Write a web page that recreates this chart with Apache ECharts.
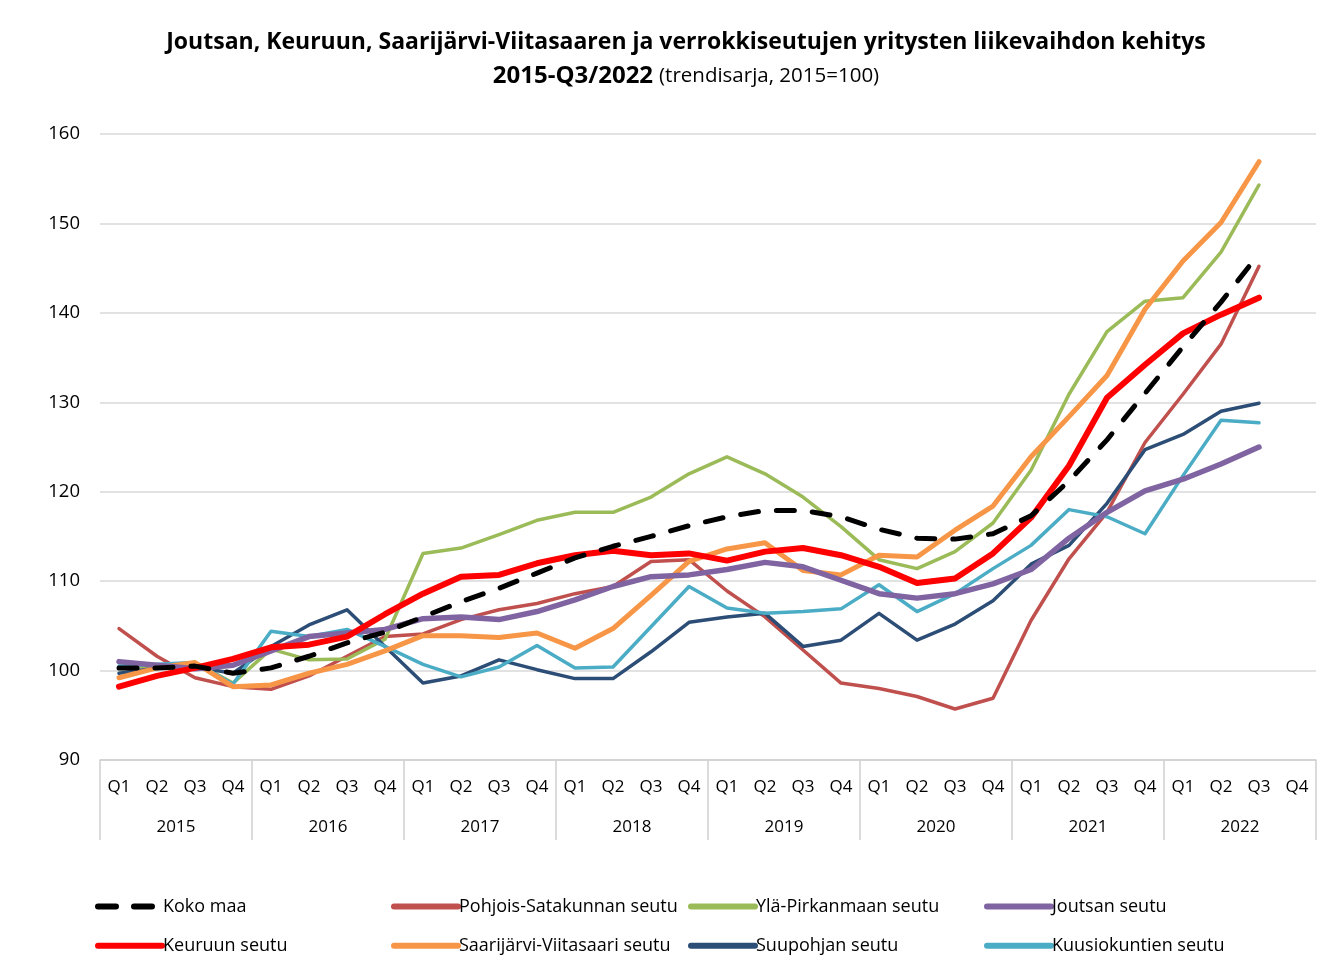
<!DOCTYPE html>
<html>
<head>
<meta charset="utf-8">
<script src="https://cdn.jsdelivr.net/npm/echarts@6/dist/echarts.min.js"></script>
<style>
  html, body { margin: 0; padding: 0; background: #fff; }
  #main { width: 1340px; height: 968px; }
</style>
</head>
<body>
<div id="main"></div>
<script>
// kvartaalit ja vuodet
const quarters = [];
const years = ['2015', '2016', '2017', '2018', '2019', '2020', '2021', '2022'];
years.forEach(function () { quarters.push('Q1', 'Q2', 'Q3', 'Q4'); });

// trendisarjat, 2015=100 (2022 Q4 puuttuu)
const kokoMaa = [100.3, 100.3, 100.5, 99.7, 100.3, 101.6, 103.1, 104.3, 106.0, 107.7, 109.2, 110.9, 112.6, 113.9, 115.0, 116.2, 117.2, 117.9, 117.9, 117.2, 115.8, 114.8, 114.7, 115.3, 117.3, 121.2, 125.8, 131.0, 136.2, 141.2, 146.6, null];
const pohjoisSatakunta = [104.7, 101.6, 99.2, 98.2, 97.9, 99.4, 101.6, 103.8, 104.1, 105.7, 106.8, 107.5, 108.6, 109.4, 112.2, 112.4, 108.9, 106.0, 102.3, 98.6, 98.0, 97.1, 95.7, 96.9, 105.6, 112.5, 117.7, 125.5, 130.9, 136.5, 145.2, null];
const ylaPirkanmaa = [100.2, 100.6, 100.9, 98.6, 102.4, 101.2, 101.3, 103.5, 113.1, 113.7, 115.2, 116.8, 117.7, 117.7, 119.4, 122.0, 123.9, 122.0, 119.4, 116.1, 112.4, 111.4, 113.3, 116.5, 122.4, 130.9, 137.9, 141.3, 141.7, 146.8, 154.3, null];
const joutsa = [101.0, 100.6, 100.2, 100.6, 102.2, 103.8, 104.2, 104.6, 105.8, 106.0, 105.7, 106.6, 107.9, 109.4, 110.5, 110.7, 111.3, 112.1, 111.6, 110.1, 108.6, 108.1, 108.6, 109.7, 111.3, 114.8, 117.7, 120.1, 121.4, 123.1, 125.0, null];
const keuruu = [98.2, 99.4, 100.3, 101.3, 102.6, 102.9, 103.8, 106.3, 108.6, 110.5, 110.7, 112.0, 112.9, 113.4, 112.9, 113.1, 112.3, 113.3, 113.7, 112.9, 111.6, 109.8, 110.3, 113.1, 117.1, 122.9, 130.5, 134.2, 137.7, 139.8, 141.7, null];
const saarijarviViitasaari = [99.2, 100.3, 100.9, 98.2, 98.4, 99.7, 100.7, 102.2, 103.9, 103.9, 103.7, 104.2, 102.5, 104.7, 108.4, 112.2, 113.6, 114.3, 111.2, 110.7, 112.9, 112.7, 115.7, 118.4, 123.9, 128.4, 133.0, 140.4, 145.8, 150.1, 156.9, null];
const suupohja = [99.7, 100.3, 100.4, 99.7, 102.7, 105.1, 106.8, 102.7, 98.6, 99.4, 101.2, 100.1, 99.1, 99.1, 102.1, 105.4, 106.0, 106.4, 102.7, 103.4, 106.4, 103.4, 105.2, 107.8, 111.9, 114.0, 118.7, 124.7, 126.4, 129.0, 129.9, null];
const kuusiokunta = [100.5, 100.7, 100.9, 98.5, 104.4, 103.8, 104.6, 102.7, 100.7, 99.3, 100.4, 102.8, 100.3, 100.4, 104.9, 109.4, 107.0, 106.4, 106.6, 106.9, 109.6, 106.6, 108.6, 111.4, 114.0, 118.0, 117.2, 115.3, 121.8, 128.0, 127.7, null];

const FONT = 'Open Sans';

var myChart = echarts.init(document.getElementById('main'));

function line(name, data, color, width, extra) {
  return Object.assign({
    name: name,
    type: 'line',
    data: data,
    symbol: 'none',
    animation: false,
    color: color,
    lineStyle: { color: color, width: width, cap: 'round', join: 'round' }
  }, extra || {});
}

function legendCol(left, names) {
  return {
    orient: 'vertical',
    left: left,
    top: 892,
    itemGap: 16,
    itemWidth: 64,
    itemHeight: 24,
    data: names,
    itemStyle: { opacity: 0 },
    lineStyle: { width: 6, cap: 'round' },
    textStyle: { fontFamily: FONT, fontSize: 18, color: '#000', padding: [0, 0, 0, -4] }
  };
}

myChart.setOption({
  backgroundColor: '#fff',
  title: {
    left: 681,
    textAlign: 'center',
    top: 20,
    text: 'Joutsan, Keuruun, Saarijärvi-Viitasaaren ja verrokkiseutujen yritysten liikevaihdon kehitys\n{b|2015-Q3/2022} {n|(trendisarja, 2015=100)}',
    textStyle: {
      fontFamily: FONT,
      fontSize: 23,
      fontWeight: 'bold',
      color: '#000',
      lineHeight: 34,
      rich: {
        b: { fontFamily: FONT, fontSize: 24, fontWeight: 'bold', color: '#000', lineHeight: 34 },
        n: { fontFamily: FONT, fontSize: 20.5, fontWeight: 'normal', color: '#000', lineHeight: 34 }
      }
    }
  },
  legend: [
    legendCol(90, ['Koko maa', 'Keuruun seutu']),
    legendCol(386, ['Pohjois-Satakunnan seutu', 'Saarijärvi-Viitasaari seutu']),
    legendCol(683, ['Ylä-Pirkanmaan seutu', 'Suupohjan seutu']),
    legendCol(979, ['Joutsan seutu', 'Kuusiokuntien seutu'])
  ].map(function (l) { l.itemGap = 20; return l; }),
  grid: { left: 100, right: 24, top: 134, bottom: 208 },
  xAxis: [
    {
      type: 'category',
      data: quarters,
      boundaryGap: true,
      axisLine: { show: true, lineStyle: { color: '#d0d0d0', width: 1.5 } },
      axisTick: { show: false },
      axisLabel: { interval: 0, margin: 19, fontFamily: FONT, fontSize: 17, color: '#000' }
    },
    {
      type: 'category',
      position: 'bottom',
      data: years,
      boundaryGap: true,
      axisLine: { show: false },
      axisTick: { show: true, length: 80, interval: 0, lineStyle: { color: '#d0d0d0', width: 1.5 } },
      axisLabel: { interval: 0, margin: 59, fontFamily: FONT, fontSize: 17, color: '#000' }
    }
  ],
  yAxis: {
    type: 'value',
    min: 90,
    max: 160,
    interval: 10,
    axisLine: { show: false },
    axisTick: { show: false },
    axisLabel: { margin: 20, fontFamily: FONT, fontSize: 18.5, color: '#000' },
    splitLine: { lineStyle: { color: '#d9d9d9', width: 1.5 } }
  },
  series: [
    line('Pohjois-Satakunnan seutu', pohjoisSatakunta, '#c0504d', 3.5),
    line('Ylä-Pirkanmaan seutu', ylaPirkanmaa, '#9bbb59', 3.5),
    line('Suupohjan seutu', suupohja, '#2c4d75', 3.5),
    line('Kuusiokuntien seutu', kuusiokunta, '#4bacc6', 3.5),
    line('Saarijärvi-Viitasaari seutu', saarijarviViitasaari, '#f79646', 5),
    line('Joutsan seutu', joutsa, '#8064a2', 5.5),
    line('Keuruun seutu', keuruu, '#ff0000', 6),
    line('Koko maa', kokoMaa, '#000000', 5, {
      lineStyle: { color: '#000', width: 5, type: [18, 18], cap: 'round', join: 'round' }
    })
  ]
});
</script>
</body>
</html>
